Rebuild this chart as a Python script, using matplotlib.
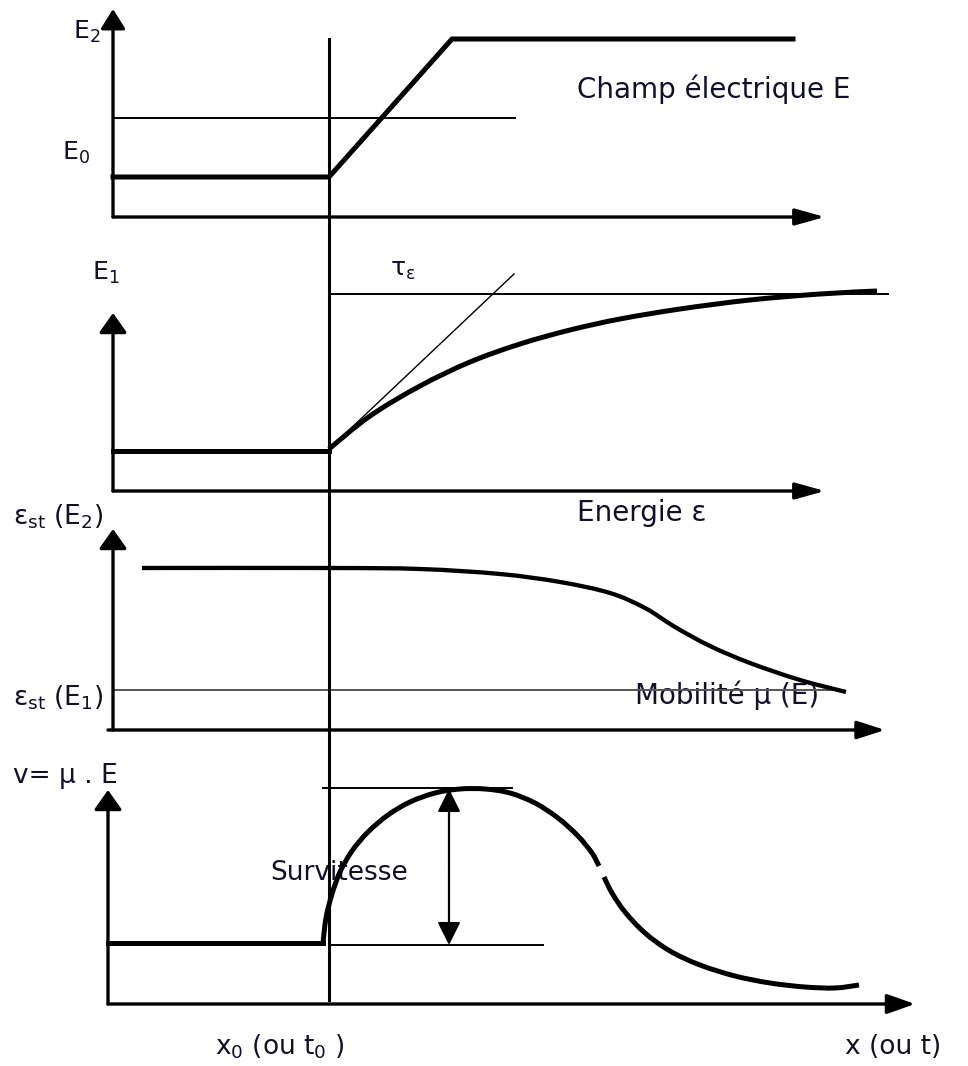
import matplotlib
matplotlib.use("Agg")
import matplotlib.pyplot as plt
from matplotlib.path import Path
from matplotlib.patches import PathPatch

plt.rcParams['font.family'] = ['DejaVu Sans']
plt.rcParams['mathtext.fontset'] = 'dejavusans'

# Schematic drawn on a page-sized canvas: x to the right, y downward

# Champ electrique E (step from E0 up to E2)
field_x = [113, 329, 452, 793]
field_y = [177, 177, 39, 39]
field_ref_x = [113, 515]
field_ref_y = [118, 118]

# Energie : flat at E1 level, then relaxation with time constant tau
energy_flat_x = [113, 329]
energy_flat_y = [451, 451]
energy_x = [329, 370, 420, 470, 520, 570, 620, 680, 750, 820, 877]
energy_y = [449, 416, 386, 362, 344, 330, 319, 309, 300, 294, 291]
tangent_x = [329, 514]
tangent_y = [449, 274]
energy_ref_x = [329, 888]
energy_ref_y = [294, 294]

# Mobilite mu(E)
mob_x = [142, 329, 420, 500, 560, 610, 645, 675, 710, 750, 800, 846]
mob_y = [568, 568, 569, 574, 582, 593, 608, 627, 646, 663, 680, 692]
mob_ref_x = [113, 843]
mob_ref_y = [690, 690]

# Vitesse v = mu . E (overshoot then back to steady state)
vel_flat_x = [108, 323]
vel_flat_y = [943, 943]
vel_rise_x = [323, 326, 332, 340, 352, 368, 388, 410, 435, 460,
              485, 510, 535, 558, 578, 592, 599]
vel_rise_y = [943, 918, 894, 872, 851, 832, 815, 802, 793, 789,
              789, 793, 803, 818, 836, 853, 866]
vel_fall_x = [604, 612, 625, 645, 670, 700, 735, 770, 805, 835, 859]
vel_fall_y = [877, 893, 912, 933, 951, 965, 976, 983, 987, 988, 985]
vel_top_x = [323, 512]
vel_top_y = [788, 788]
vel_low_x = [329, 543]
vel_low_y = [945, 945]

x0_line_x = [329, 329]
x0_line_y = [39, 1000]

fig = plt.figure(figsize=(9.68, 10.66), dpi=100)
ax = fig.add_axes([0, 0, 1, 1])
ax.set_xlim(0, 968)
ax.set_ylim(1066, 0)
ax.axis('off')

thick = 3.6
axis_lw = 2.4
thin = 1.4
ink = '#10102a'


def arrow(x_start, y_start, x_end, y_end, hl, hw, scale=10, lw=axis_lw, style='-|>'):
    ax.annotate('', xy=(x_end, y_end), xytext=(x_start, y_start),
                arrowprops=dict(arrowstyle=f'{style},head_length={hl},head_width={hw}',
                                mutation_scale=scale, lw=lw, color='black',
                                shrinkA=0, shrinkB=0))


def smooth(xs, ys, lw):
    # Catmull-Rom through the points, drawn as cubic Bezier segments
    pts = list(zip(xs, ys))
    verts = [pts[0]]
    codes = [Path.MOVETO]
    for i in range(len(pts) - 1):
        p0 = pts[max(i - 1, 0)]
        p1 = pts[i]
        p2 = pts[i + 1]
        p3 = pts[min(i + 2, len(pts) - 1)]
        c1 = (p1[0] + (p2[0] - p0[0]) / 6, p1[1] + (p2[1] - p0[1]) / 6)
        c2 = (p2[0] - (p3[0] - p1[0]) / 6, p2[1] - (p3[1] - p1[1]) / 6)
        verts += [c1, c2, p2]
        codes += [Path.CURVE4] * 3
    ax.add_patch(PathPatch(Path(verts, codes), fill=False, lw=lw,
                           edgecolor='black', capstyle='butt', zorder=2))


# axes of the four panels
arrow(113, 217, 113, 9, 1.2, 0.75)
arrow(113, 217, 825, 217, 1.8, 0.5)
arrow(113, 491, 113, 313, 1.2, 0.85)
arrow(113, 491, 825, 491, 1.8, 0.5)
arrow(113, 730, 113, 529, 1.2, 0.85)
arrow(108, 730, 885, 730, 1.7, 0.55)
arrow(108, 1004, 108, 790, 1.2, 0.85)
arrow(108, 1004, 915, 1004, 1.7, 0.6)

ax.plot(x0_line_x, x0_line_y, color='black', lw=2.2, zorder=3)

# panel 1
ax.plot(field_ref_x, field_ref_y, color='black', lw=thin)
ax.plot(field_x, field_y, color='black', lw=thick, solid_joinstyle='miter')

# panel 2
ax.plot(energy_ref_x, energy_ref_y, color='black', lw=thin)
ax.plot(tangent_x, tangent_y, color='black', lw=1.0)
ax.plot(energy_flat_x, energy_flat_y, color='black', lw=thick)
smooth(energy_x, energy_y, thick)

# panel 3
ax.plot(mob_ref_x, mob_ref_y, color='#555555', lw=thin)
smooth(mob_x, mob_y, 3.1)

# panel 4
ax.plot(vel_top_x, vel_top_y, color='black', lw=thin)
ax.plot(vel_low_x, vel_low_y, color='black', lw=thin)
ax.plot(vel_flat_x, vel_flat_y, color='black', lw=thick)
smooth(vel_rise_x, vel_rise_y, thick)
smooth(vel_fall_x, vel_fall_y, thick)
arrow(449, 866, 449, 789, 1.4, 0.7, lw=1.6)
arrow(449, 866, 449, 945, 1.4, 0.7, lw=1.6)

# labels
fs = 20
ax.text(73, 32, r'E$_{\mathrm{2}}$', fontsize=fs - 2, color=ink, va='center')
ax.text(62, 153, r'E$_{\mathrm{0}}$', fontsize=fs - 2, color=ink, va='center')
ax.text(577, 89, 'Champ électrique E', fontsize=fs, color=ink, va='center')
ax.text(92, 273, r'E$_{\mathrm{1}}$', fontsize=fs - 2, color=ink, va='center')
ax.text(390, 270, r'τ$_{\mathrm{ε}}$', fontsize=fs - 2, color=ink, va='center')
ax.text(577, 513, 'Energie ε', fontsize=fs, color=ink, va='center')
ax.text(13, 517, r'ε$_{\mathrm{st}}$ (E$_{\mathrm{2}}$)', fontsize=fs - 1, color=ink, va='center')
ax.text(13, 698, r'ε$_{\mathrm{st}}$ (E$_{\mathrm{1}}$)', fontsize=fs - 1, color=ink, va='center', zorder=1)
ax.text(635, 695, 'Mobilité μ (E)', fontsize=fs, color=ink, va='center', zorder=1)
ax.text(13, 776, 'v= μ . E', fontsize=fs - 1, color=ink, va='center')
ax.text(270, 873, 'Survitesse', fontsize=fs - 1, color=ink, va='center', zorder=1)
ax.text(215, 1047, r'x$_{\mathrm{0}}$ (ou t$_{\mathrm{0}}$ )', fontsize=fs - 1, color=ink, va='center')
ax.text(845, 1047, 'x (ou t)', fontsize=fs - 1, color=ink, va='center')

fig.savefig('out.png', dpi=100)
